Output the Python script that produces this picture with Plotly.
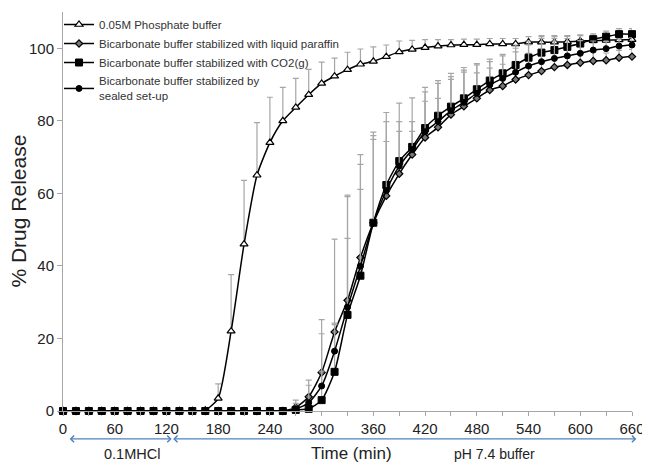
import plotly.graph_objects as go

time_min = [0, 15, 30, 45, 60, 75, 90, 105, 120, 135, 150, 165, 180, 195, 210, 225, 240, 255,
            270, 285, 300, 315, 330, 345, 360, 375, 390, 405, 420, 435, 450, 465, 480, 495,
            510, 525, 540, 555, 570, 585, 600, 615, 630, 645, 660]

phosphate = [0, 0, 0, 0, 0, 0, 0, 0, 0, 0, 0, 0.2, 3.5, 22, 46, 65, 74, 80,
             83.7, 87.2, 90.3, 92.3, 94.1, 95.6, 96.4, 97.7, 99.0, 99.7, 100.2, 100.6, 100.9, 101.0, 101.0, 101.2,
             101.2, 101.2, 101.7, 101.7, 101.7, 101.8, 102.0, 102.1, 102.2, 102.3, 102.4]
phosphate_err = [0, 0, 0, 0, 0, 0, 0, 0, 0, 0, 0, 0, 4, 15.6, 17.6, 14.5, 12.5, 9.2,
                 8, 7, 5.9, 5, 4.8, 4.2, 4, 3.2, 3, 2.5, 2.2, 1.8, 1.5, 1.5, 1.5, 1.5,
                 1.5, 1.5, 1.5, 1.5, 1.5, 1.5, 1.5, 1.5, 1.5, 1.5, 1.5]

paraffin = [0, 0, 0, 0, 0, 0, 0, 0, 0, 0, 0, 0, 0, 0, 0, 0, 0, 0,
            1.0, 3.9, 10.6, 21.8, 30.5, 42.3, 51.9, 59.3, 65.4, 70.7, 75.4, 78.2, 81.7, 84.0, 86.2, 88.5,
            89.6, 91.4, 92.6, 93.7, 94.8, 95.4, 96.0, 96.5, 96.7, 97.4, 97.7]
paraffin_err = [0, 0, 0, 0, 0, 0, 0, 0, 0, 0, 0, 0, 0, 0, 0, 0, 0, 0,
                2, 4.6, 14.6, 25.6, 29, 28.4, 25, 15, 11.7, 6.4, 10, 8, 9.7, 9.4, 7, 6,
                6, 7.6, 6, 5, 7.2, 4, 3, 2.5, 2, 2, 2]

co2 = [0, 0, 0, 0, 0, 0, 0, 0, 0, 0, 0, 0, 0, 0, 0, 0, 0, 0,
       0.3, 0.6, 3.0, 10.8, 26.5, 37.3, 51.9, 62.3, 68.9, 72.8, 78.0, 81.4, 83.9, 86.2, 88.7, 91.1,
       93.1, 95.4, 97.4, 98.8, 99.5, 100.4, 101.3, 102.5, 103.2, 103.9, 103.9]
co2_err = [0, 0, 0, 0, 0, 0, 0, 0, 0, 0, 0, 0, 0, 0, 0, 0, 0, 0,
           1, 2, 8, 13, 21.1, 23.8, 23, 20, 16, 13.5, 11.2, 9.7, 9.2, 8.5, 7.1, 5.9,
           5.2, 5.5, 4.6, 4.7, 4, 3.1, 2.4, 1.5, 1.5, 1.5, 1.5]

sealed = [0, 0, 0, 0, 0, 0, 0, 0, 0, 0, 0, 0, 0, 0, 0, 0, 0, 0,
          0.6, 2.3, 6.9, 16.5, 28.6, 39.9, 51.9, 60.8, 67.5, 72.1, 77.0, 79.8, 82.8, 85.1, 87.6, 89.9,
          91.7, 93.4, 95.1, 96.3, 97.2, 97.9, 98.6, 99.5, 99.9, 100.6, 100.9]
sealed_err = [0, 0, 0, 0, 0, 0, 0, 0, 0, 0, 0, 0, 0, 0, 0, 0, 0, 0,
              1.5, 4.8, 14.4, 7.7, 30.5, 28.1, 24, 19, 12.3, 7.7, 11, 10.5, 9.4, 8.9, 7.8, 6.4,
              6.2, 6.6, 5.8, 6.4, 5.5, 4.8, 3.5, 2.5, 2, 2, 2]

series_names = ["0.05M Phosphate buffer",
                "Bicarbonate buffer stabilized with liquid paraffin",
                "Bicarbonate buffer stabilized with CO2(g)",
                "Bicarbonate buffer stabilized by<br>sealed set-up"]

x_ticks = [0, 60, 120, 180, 240, 300, 360, 420, 480, 540, 600, 660]
y_ticks = [0, 20, 40, 60, 80, 100]

FONT = "Arial, Liberation Sans, sans-serif"
ERR_COLOR = "#a6a6a6"
TEXT = "#222222"

fig = go.Figure()

def add_series(y, err, name, symbol, size, fill, line_w=1.0):
    fig.add_trace(go.Scatter(
        x=time_min, y=y, name=name, mode="lines+markers",
        line=dict(color="black", width=1.5, shape="spline", smoothing=0.6),
        marker=dict(symbol=symbol, size=size, color=fill,
                    line=dict(color="black", width=line_w)),
        error_y=dict(type="data", array=err, arrayminus=[0] * len(err), symmetric=False,
                     color=ERR_COLOR, thickness=1.2, width=3),
        cliponaxis=False,
    ))

add_series(phosphate, phosphate_err, series_names[0], "triangle-up", 7, "white", 1.2)
add_series(paraffin, paraffin_err, series_names[1], "diamond", 5.5, "#777777", 1.2)
add_series(co2, co2_err, series_names[2], "square", 7, "black", 1)
add_series(sealed, sealed_err, series_names[3], "circle", 6, "black", 1)

# Phase arrows and labels below the axis
arrow_color = "#4f81bd"
y_arrow = -0.07
for x0, x1 in [(6, 126), (126, 665)]:
    fig.add_annotation(x=x1, y=y_arrow, ax=x0, ay=0, xref="x", yref="paper",
                       axref="x", ayref="pixel", text="", showarrow=True,
                       arrowhead=4, startarrowhead=4, arrowside="end+start",
                       arrowsize=1, startarrowsize=1, arrowwidth=1.3, arrowcolor=arrow_color)

y_text = -0.107
fig.add_annotation(x=80, y=y_text, xref="x", yref="paper", text="0.1MHCl", showarrow=False,
                   xanchor="center", yanchor="middle",
                   font=dict(family=FONT, size=14.5, color=TEXT))
fig.add_annotation(x=335, y=y_text, xref="x", yref="paper", text="Time (min)", showarrow=False,
                   xanchor="center", yanchor="middle",
                   font=dict(family=FONT, size=17, color=TEXT))
fig.add_annotation(x=500, y=y_text, xref="x", yref="paper", text="pH 7.4 buffer", showarrow=False,
                   xanchor="center", yanchor="middle",
                   font=dict(family=FONT, size=14, color=TEXT))
# y-axis title
fig.add_annotation(x=-0.079, y=0.5, xref="paper", yref="paper", text="% Drug Release",
                   textangle=-90, showarrow=False, xanchor="center", yanchor="middle",
                   font=dict(family=FONT, size=21, color=TEXT))

# The page body has an 8px margin, so the figure is sized/margined to land on the same pixels.
fig.update_layout(
    width=642, height=457,
    margin=dict(l=55, r=18, t=2, b=54),
    paper_bgcolor="white", plot_bgcolor="white",
    font=dict(family=FONT, color=TEXT),
    showlegend=True,
    legend=dict(x=-0.007, y=1.005, xanchor="left", yanchor="top",
                bgcolor="rgba(0,0,0,0)", font=dict(family=FONT, size=11.5, color="#333333"),
                itemwidth=30, tracegroupgap=0),
    xaxis=dict(range=[0, 660], tickmode="array", tickvals=x_ticks, ticktext=[str(v) for v in x_ticks],
               automargin=False,
               showgrid=False, zeroline=False, showline=True, linecolor="#a6a6a6", linewidth=1,
               ticks="outside", ticklen=4, tickcolor="#a6a6a6",
               minor=dict(dtick=30, tick0=0, ticks="outside", ticklen=4, tickcolor="#a6a6a6"),
               tickfont=dict(family=FONT, size=15, color=TEXT)),
    yaxis=dict(range=[0, 110], tickmode="array", tickvals=y_ticks, ticktext=[str(v) for v in y_ticks],
               automargin=False,
               showgrid=False, zeroline=False, showline=True, linecolor="#a6a6a6", linewidth=1,
               ticks="outside", ticklen=5, tickcolor="#a6a6a6",
               tickfont=dict(family=FONT, size=15, color=TEXT)),
)

fig.write_html("out.html")
